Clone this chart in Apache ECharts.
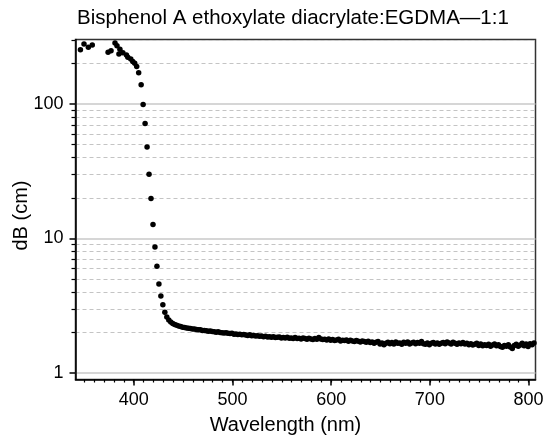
<!DOCTYPE html>
<html><head><meta charset="utf-8">
<script src="https://cdn.jsdelivr.net/npm/echarts@6/dist/echarts.min.js"></script>
<style>html,body{margin:0;padding:0;background:#fff}#c{width:544px;height:442px}</style>
</head><body><div id="c"></div>
<script>
const titleText = 'Bisphenol A ethoxylate diacrylate:EGDMA\u20141:1';
const xName = 'Wavelength (nm)';
const yName = 'dB (cm)';
const xMajorTicks = [400, 500, 600, 700, 800];
const xMinorTicks = [350, 360, 370, 380, 390, 400, 410, 420, 430, 440, 450, 460, 470, 480, 490, 500, 510, 520, 530, 540, 550, 560, 570, 580, 590, 600, 610, 620, 630, 640, 650, 660, 670, 680, 690, 700, 710, 720, 730, 740, 750, 760, 770, 780, 790, 800];
const yMajorTicks = [1, 10, 100];
const yMinorTicks = [2, 3, 4, 5, 6, 7, 8, 9, 20, 30, 40, 50, 60, 70, 80, 90, 200, 300];

// absorption edge region (nm, dB/cm)
const wavelengthEdge = [346, 349.6, 354, 358, 374, 377, 381, 383, 385, 386, 389, 392.6, 394, 397, 399, 401, 403, 405,
  407.5, 409.5, 411.5, 413.5, 415.5, 417.5, 419.5, 421.5, 423.5, 425.5, 427.5, 429.5, 431.5];
const dbEdge = [253, 280, 265, 275, 243, 249, 284, 271, 236, 256, 241, 232, 223, 216, 207, 201, 190, 171,
  139, 99, 71.5, 48, 30, 19.8, 12.7, 8.63, 6.2, 4.58, 3.74, 3.21, 2.82];

// flat region sampled every 2 nm starting at 433.5 nm
const flatStart = 433.5;
const flatStep = 2;
const dbFlat = [
  2.60, 2.47, 2.39, 2.33, 2.29, 2.26, 2.23, 2.21, 2.19, 2.18,
  2.16, 2.15, 2.14, 2.12, 2.12, 2.10, 2.09, 2.09, 2.07, 2.07,
  2.06, 2.04, 2.05, 2.03, 2.02, 2.01, 2.02, 2.00, 1.99, 1.98,
  1.99, 1.97, 1.96, 1.97, 1.94, 1.95, 1.93, 1.94, 1.92, 1.93,
  1.91, 1.90, 1.92, 1.89, 1.90, 1.88, 1.89, 1.87, 1.88, 1.86,
  1.87, 1.85, 1.86, 1.84, 1.86, 1.83, 1.84, 1.85, 1.82, 1.83,
  1.82, 1.84, 1.81, 1.82, 1.80, 1.83, 1.80, 1.81, 1.79, 1.82,
  1.80, 1.78, 1.81, 1.79, 1.77, 1.80, 1.78, 1.83, 1.79, 1.77,
  1.78, 1.76, 1.79, 1.75, 1.77, 1.74, 1.76, 1.78, 1.73, 1.75,
  1.74, 1.76, 1.72, 1.75, 1.73, 1.71, 1.74, 1.72, 1.70, 1.73,
  1.71, 1.69, 1.72, 1.68, 1.70, 1.66, 1.69, 1.71, 1.64, 1.67,
  1.62, 1.66, 1.69, 1.65, 1.68, 1.64, 1.70, 1.66, 1.67, 1.63,
  1.69, 1.66, 1.70, 1.64, 1.67, 1.69, 1.65, 1.68, 1.66, 1.71,
  1.65, 1.63, 1.67, 1.62, 1.66, 1.68, 1.64, 1.67, 1.63, 1.66,
  1.68, 1.65, 1.70, 1.67, 1.64, 1.69, 1.66, 1.63, 1.67, 1.65,
  1.68, 1.64, 1.66, 1.62, 1.65, 1.61, 1.63, 1.66, 1.60, 1.64,
  1.59, 1.62, 1.60, 1.63, 1.58, 1.61, 1.64, 1.59, 1.62, 1.57,
  1.55, 1.60, 1.58, 1.62, 1.56, 1.52, 1.60, 1.63, 1.58, 1.61,
  1.66, 1.59, 1.64, 1.57, 1.65, 1.62, 1.67
];

const xMin = 341, xMax = 807;
const yMin = 0.893, yMax = 302;

const points = [];
for (let i = 0; i < wavelengthEdge.length; i++) points.push([wavelengthEdge[i], dbEdge[i]]);
for (let i = 0; i < dbFlat.length; i++) points.push([flatStart + i * flatStep, dbFlat[i]]);

const FONT = 'Liberation Sans, Arial, Helvetica, sans-serif';
const chart = echarts.init(document.getElementById('c'), null, {renderer: 'canvas'});
chart.setOption({
  animation: false,
  backgroundColor: '#fff',
  title: {
    text: titleText, left: 77, top: 8, padding: 0,
    textStyle: {fontFamily: FONT, fontSize: 20.5, fontWeight: 'normal', color: '#000'}
  },
  grid: {left: 75.5, right: 8.5, top: 39.5, bottom: 62.5, show: true, borderColor: '#333', borderWidth: 1.5,
    backgroundColor: 'transparent', containLabel: false, outerBoundsMode: 'none'},
  xAxis: [
    {
      type: 'value', min: xMin, max: xMax, position: 'bottom',
      name: xName, nameLocation: 'middle', nameGap: 36, nameMoveOverlap: false,
      nameTextStyle: {fontFamily: FONT, fontSize: 20, color: '#000', padding: [0, 40, 0, 0]},
      axisLine: {show: true, onZero: false, lineStyle: {color: '#000', width: 1.5}},
      axisTick: {show: true, customValues: xMajorTicks, length: 6, inside: false, lineStyle: {color: '#000', width: 1.5}},
      axisLabel: {customValues: xMajorTicks, fontFamily: FONT, fontSize: 18, color: '#000', margin: 12},
      splitLine: {show: false}
    },
    {
      type: 'value', min: xMin, max: xMax, position: 'bottom',
      axisLine: {show: false},
      axisTick: {show: true, customValues: xMinorTicks, length: 3, inside: false, lineStyle: {color: '#000', width: 1.2}},
      axisLabel: {show: false},
      splitLine: {show: false}
    }
  ],
  yAxis: [
    {
      type: 'log', logBase: 10, min: yMin, max: yMax, position: 'left',
      name: yName, nameLocation: 'middle', nameGap: 44, nameMoveOverlap: false,
      nameTextStyle: {fontFamily: FONT, fontSize: 20, color: '#000', padding: [0, 12, 0, 0]},
      axisLine: {show: true, onZero: false, lineStyle: {color: '#000', width: 1.5}},
      axisTick: {show: true, customValues: yMajorTicks, length: 6, inside: false, lineStyle: {color: '#000', width: 1.5}},
      axisLabel: {customValues: yMajorTicks, fontFamily: FONT, fontSize: 18, color: '#000', margin: 12},
      splitLine: {show: true, lineStyle: {color: '#c8c8c8', width: 1.5}}
    },
    {
      type: 'log', logBase: 10, min: yMin, max: yMax, position: 'left',
      axisLine: {show: false},
      axisTick: {show: true, customValues: yMinorTicks, length: 4, inside: false, lineStyle: {color: '#000', width: 1.2}},
      axisLabel: {show: false},
      splitLine: {show: true, lineStyle: {color: '#c4c4c4', width: 1, type: [4, 3]}}
    }
  ],
  series: [{
    type: 'scatter', xAxisIndex: 0, yAxisIndex: 0,
    data: points, symbol: 'circle', symbolSize: 5.5,
    itemStyle: {color: '#000', opacity: 1}, clip: true
  }]
});
</script></body></html>
